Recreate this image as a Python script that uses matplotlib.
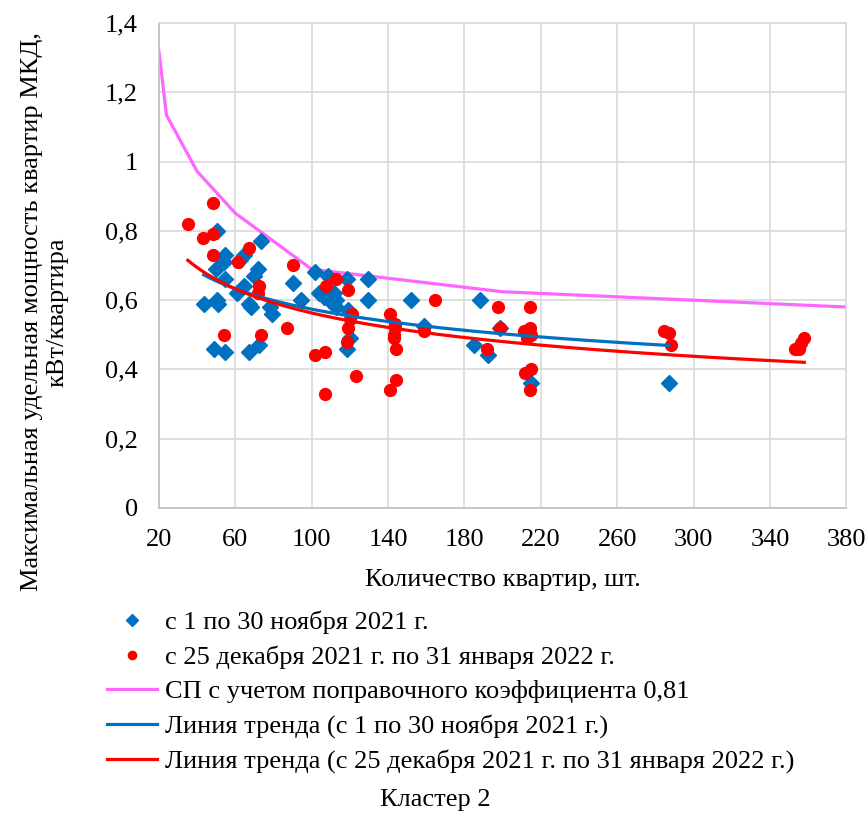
import numpy as np
import matplotlib.pyplot as plt
from matplotlib.ticker import FuncFormatter, MultipleLocator

plt.rcParams['font.family'] = ['Liberation Serif', 'DejaVu Serif']

# с 1 по 30 ноября 2021 г.
nov_x = [43.5, 50.5, 54.5, 54, 50, 54.5, 50.5, 51, 49, 54.5, 64.5, 62.5, 73.5, 72, 70,
         64.5, 61, 67, 68, 67, 72.5, 78, 79, 90.5, 94.5, 102, 108.5, 118.5, 129.5, 104,
         106.5, 109, 111.5, 113, 113, 119, 129.5, 152, 188, 120, 118.5, 159, 185, 192.5,
         198.5, 215, 287]
nov_y = [0.59, 0.80, 0.73, 0.71, 0.69, 0.66, 0.60, 0.59, 0.46, 0.45, 0.73, 0.715, 0.77, 0.69, 0.67,
         0.64, 0.62, 0.59, 0.58, 0.45, 0.47, 0.58, 0.56, 0.65, 0.60, 0.68, 0.67, 0.66, 0.66, 0.62,
         0.61, 0.60, 0.62, 0.60, 0.58, 0.57, 0.60, 0.60, 0.60, 0.49, 0.46, 0.525, 0.47, 0.44,
         0.52, 0.36, 0.36]

# с 25 декабря 2021 г. по 31 января 2022 г.
jan_x = [35.2, 48.3, 43, 48.3, 48.3, 61.4, 67.2, 72.4, 72, 54, 73.5, 87, 90, 102, 107,
         107, 107.5, 113, 119, 121, 120, 119, 118.5, 123, 141, 143.5, 143.5, 143, 143, 144,
         144, 141, 159, 164.5, 197.5, 214.5, 198.5, 192, 211, 214.5, 215, 213, 215, 212,
         214.5, 284.5, 287, 288, 358, 356.5, 355, 353]
jan_y = [0.82, 0.88, 0.78, 0.79, 0.73, 0.71, 0.75, 0.64, 0.62, 0.50, 0.50, 0.52, 0.70, 0.44, 0.45,
         0.33, 0.64, 0.66, 0.63, 0.56, 0.545, 0.52, 0.48, 0.38, 0.56, 0.53, 0.52, 0.50, 0.49, 0.46,
         0.37, 0.34, 0.51, 0.60, 0.58, 0.58, 0.52, 0.46, 0.51, 0.52, 0.50, 0.49, 0.40, 0.39,
         0.34, 0.51, 0.505, 0.47, 0.49, 0.475, 0.46, 0.46]

# СП с учетом поправочного коэффициента 0,81
sp_x = [20, 24, 40, 60, 100, 200, 400]
sp_y = [1.32, 1.134, 0.972, 0.851, 0.689, 0.624, 0.575]

blue = '#0070C0'
red = '#FF0000'
pink = '#FF66FF'
fs = 19


def power_trend(x, y):
    # степенная линия тренда, как в Excel
    b, ln_a = np.polyfit(np.log(x), np.log(y), 1)
    xs = np.linspace(min(x), max(x), 200)
    return xs, np.exp(ln_a) * xs ** b


fig = plt.figure(figsize=(8.68, 8.23), dpi=100)
ax = fig.add_axes([0.183, 0.383, 0.792, 0.589])

ax.plot(nov_x, nov_y, 'D', color=blue, ms=8.5, mec=blue, ls='none',
        label='с 1 по 30 ноября 2021 г.', zorder=3)
ax.plot(jan_x, jan_y, 'o', color=red, ms=8.5, mec=red, ls='none',
        label='с 25 декабря 2021 г. по 31 января 2022 г.', zorder=4)
ax.plot(sp_x, sp_y, color=pink, lw=2.3,
        label='СП с учетом поправочного коэффициента 0,81', zorder=2)
tx, ty = power_trend(nov_x, nov_y)
ax.plot(tx, ty, color=blue, lw=2.3, label='Линия тренда (с 1 по 30 ноября 2021 г.)', zorder=5)
tx, ty = power_trend(jan_x, jan_y)
ax.plot(tx, ty, color=red, lw=2.3,
        label='Линия тренда (с 25 декабря 2021 г. по 31 января 2022 г.)', zorder=5)

ax.set_xlim(20, 380)
ax.set_ylim(0, 1.4)
ax.set_xticks(np.arange(20, 381, 40))
ax.yaxis.set_major_locator(MultipleLocator(0.2))
ax.yaxis.set_major_formatter(FuncFormatter(lambda v, p: ('%g' % round(v, 1)).replace('.', ',')))
ax.grid(color='#d9d9d9', lw=1.2)
ax.set_axisbelow(True)
ax.tick_params(length=0, labelsize=fs, colors='black')
ax.tick_params(axis='y', pad=15)
ax.tick_params(axis='x', pad=15)
for s in ax.spines.values():
    s.set_color('#d9d9d9')
    s.set_linewidth(1.2)
ax.spines['left'].set_color('#bfbfbf')
ax.spines['bottom'].set_color('#bfbfbf')

ax.set_xlabel('Количество квартир, шт.', fontsize=fs, labelpad=13)
fig.text(0.052, 0.621, 'Максимальная удельная мощность квартир МКД,\nкВт/квартира',
         rotation=90, ha='center', va='center', fontsize=fs, linespacing=1.2)

fig.legend(loc='upper left', bbox_to_anchor=(0.123, 0.258), frameon=False, fontsize=fs,
           handlelength=1.9, handletextpad=0.3, labelspacing=0.42, borderaxespad=0,
           borderpad=0, markerscale=0.7)
fig.text(0.501, 0.028, 'Кластер 2', ha='center', va='center', fontsize=fs)

fig.savefig('out.png', dpi=100)
